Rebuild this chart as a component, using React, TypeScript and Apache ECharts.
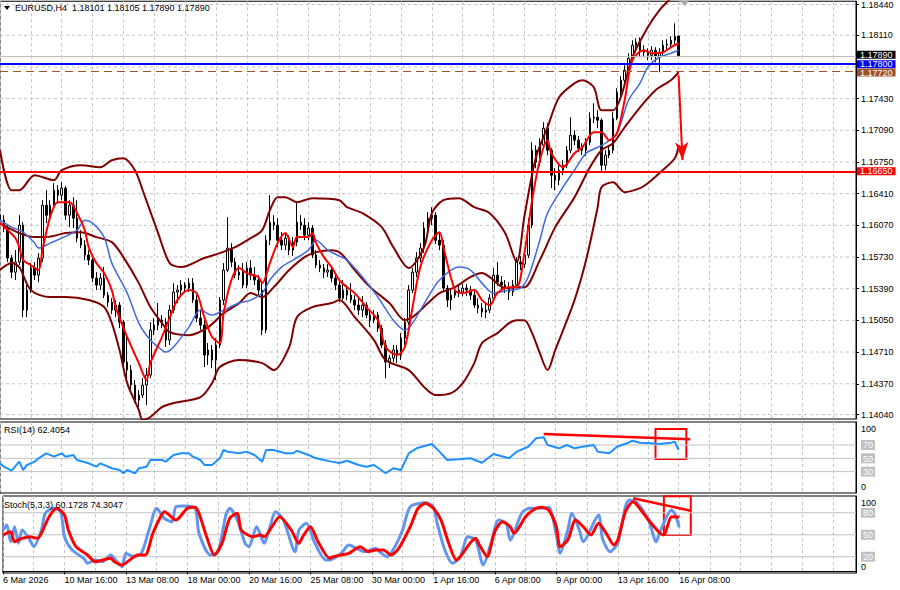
import React, { useEffect, useRef } from 'react';
import * as echarts from 'echarts';

// ---------- data ----------
const symbolName = 'EURUSD,H4';
const headerOHLC = [1.18101, 1.18105, 1.1789, 1.1789];
const rsiCaption = 'RSI(14) 62.4054';
const stochCaption = 'Stoch(5,3,3) 60.1728 74.3047';

const timeLabels = ['6 Mar 2026', '10 Mar 16:00', '13 Mar 08:00', '18 Mar 00:00', '20 Mar 16:00', '25 Mar 08:00',
  '30 Mar 00:00', '1 Apr 16:00', '6 Apr 08:00', '9 Apr 00:00', '13 Apr 16:00', '16 Apr 08:00'];
const barsPerLabel = 16;
const barsPerGrid = 8;
const totalSlots = 223;

const opens = [
  1.16179, 1.16126, 1.16040, 1.15719, 1.15568, 1.15676, 1.16072, 1.15161, 1.15375, 1.15612,
  1.15536, 1.15719, 1.16286, 1.16179, 1.16286, 1.16447, 1.16394, 1.16469, 1.16179, 1.16286,
  1.16147, 1.15933, 1.15858, 1.15751, 1.15697, 1.15504, 1.15429, 1.15504, 1.15321, 1.15246,
  1.15161, 1.15214, 1.15032, 1.14603, 1.14517, 1.14356, 1.14195, 1.14249, 1.14356, 1.14463,
  1.14946, 1.15000, 1.15053, 1.15032, 1.14839, 1.15161, 1.15354, 1.15375, 1.15429, 1.15397,
  1.15450, 1.15268, 1.15075, 1.15000, 1.14678, 1.14732, 1.14624, 1.14785, 1.15268, 1.15590,
  1.15826, 1.15676, 1.15536, 1.15568, 1.15429, 1.15612, 1.15536, 1.15483, 1.15375, 1.14946,
  1.15911, 1.16104, 1.16072, 1.15911, 1.15858, 1.15933, 1.15804, 1.15890, 1.16104, 1.16072,
  1.15965, 1.16040, 1.15751, 1.15644, 1.15612, 1.15568, 1.15590, 1.15504, 1.15429, 1.15289,
  1.15375, 1.15321, 1.15268, 1.15214, 1.15161, 1.15214, 1.15107, 1.15053, 1.15107, 1.14967,
  1.14785, 1.14603, 1.14646, 1.14732, 1.14678, 1.14860, 1.15032, 1.15375, 1.15568, 1.15719,
  1.15826, 1.16040, 1.16147, 1.16179, 1.15911, 1.15858, 1.15397, 1.15268, 1.15321, 1.15375,
  1.15354, 1.15397, 1.15375, 1.15321, 1.15214, 1.15182, 1.15139, 1.15161, 1.15289, 1.15536,
  1.15461, 1.15429, 1.15397, 1.15354, 1.15429, 1.15676, 1.15654, 1.15751, 1.16072, 1.16876,
  1.16748, 1.16930, 1.17112, 1.16876, 1.16608, 1.16555, 1.16662, 1.16715, 1.16876, 1.17037,
  1.16984, 1.16898, 1.16876, 1.16962, 1.17219, 1.17230, 1.17198, 1.16715, 1.16823, 1.16876,
  1.17219, 1.17498, 1.17627, 1.17734, 1.17863, 1.18003, 1.18035, 1.17949, 1.17927, 1.17895,
  1.17949, 1.17884, 1.17927, 1.18003, 1.18013, 1.18056, 1.18101,
];
const closes = [
  1.16126, 1.16040, 1.15719, 1.15568, 1.15676, 1.16072, 1.15161, 1.15375, 1.15612, 1.15536,
  1.15719, 1.16286, 1.16179, 1.16286, 1.16447, 1.16394, 1.16469, 1.16179, 1.16286, 1.16147,
  1.15933, 1.15858, 1.15751, 1.15697, 1.15504, 1.15429, 1.15504, 1.15321, 1.15246, 1.15161,
  1.15214, 1.15032, 1.14603, 1.14517, 1.14356, 1.14195, 1.14249, 1.14356, 1.14463, 1.14946,
  1.15000, 1.15053, 1.15032, 1.14839, 1.15161, 1.15354, 1.15375, 1.15429, 1.15397, 1.15450,
  1.15268, 1.15075, 1.15000, 1.14678, 1.14732, 1.14624, 1.14785, 1.15268, 1.15590, 1.15826,
  1.15676, 1.15536, 1.15568, 1.15429, 1.15612, 1.15536, 1.15483, 1.15375, 1.14946, 1.15911,
  1.16104, 1.16072, 1.15911, 1.15858, 1.15933, 1.15804, 1.15890, 1.16104, 1.16072, 1.15965,
  1.16040, 1.15751, 1.15644, 1.15612, 1.15568, 1.15590, 1.15504, 1.15429, 1.15289, 1.15375,
  1.15321, 1.15268, 1.15214, 1.15161, 1.15214, 1.15107, 1.15053, 1.15107, 1.14967, 1.14785,
  1.14603, 1.14646, 1.14732, 1.14678, 1.14860, 1.15032, 1.15375, 1.15568, 1.15719, 1.15826,
  1.16040, 1.16147, 1.16179, 1.15911, 1.15858, 1.15397, 1.15268, 1.15321, 1.15375, 1.15354,
  1.15397, 1.15375, 1.15321, 1.15214, 1.15182, 1.15139, 1.15161, 1.15289, 1.15536, 1.15461,
  1.15429, 1.15397, 1.15354, 1.15429, 1.15676, 1.15654, 1.15751, 1.16072, 1.16876, 1.16748,
  1.16930, 1.17112, 1.16876, 1.16608, 1.16555, 1.16662, 1.16715, 1.16876, 1.17037, 1.16984,
  1.16898, 1.16876, 1.16962, 1.17219, 1.17230, 1.17198, 1.16715, 1.16823, 1.16876, 1.17219,
  1.17498, 1.17627, 1.17734, 1.17863, 1.18003, 1.18035, 1.17949, 1.17927, 1.17895, 1.17949,
  1.17884, 1.17927, 1.18003, 1.18013, 1.18056, 1.18099, 1.17890,
];
const lows = [
  1.16040, 1.15997, 1.15676, 1.15504, 1.15483, 1.15644, 1.15085, 1.15085, 1.15343, 1.15483,
  1.15461, 1.15676, 1.16094, 1.16126, 1.16255, 1.16308, 1.16340, 1.16126, 1.16051, 1.16040,
  1.15890, 1.15826, 1.15697, 1.15644, 1.15461, 1.15375, 1.15375, 1.15289, 1.15193, 1.15118,
  1.15085, 1.14967, 1.14549, 1.14431, 1.14302, 1.14163, 1.14120, 1.14217, 1.14141, 1.14431,
  1.14892, 1.14946, 1.14967, 1.14764, 1.14785, 1.15128, 1.15236, 1.15321, 1.15343, 1.15354,
  1.15236, 1.15032, 1.14946, 1.14549, 1.14571, 1.14539, 1.14410, 1.14753, 1.15214, 1.15568,
  1.15622, 1.15504, 1.15483, 1.15397, 1.15397, 1.15483, 1.15429, 1.15321, 1.14892, 1.14914,
  1.15858, 1.16019, 1.15836, 1.15804, 1.15804, 1.15751, 1.15740, 1.15847, 1.16019, 1.15911,
  1.15911, 1.15719, 1.15612, 1.15568, 1.15504, 1.15515, 1.15461, 1.15375, 1.15246, 1.15268,
  1.15268, 1.15236, 1.15161, 1.15107, 1.15085, 1.15075, 1.14978, 1.15021, 1.14925, 1.14753,
  1.14431, 1.14539, 1.14603, 1.14592, 1.14624, 1.14785, 1.15000, 1.15343, 1.15515, 1.15676,
  1.15772, 1.15965, 1.16072, 1.15869, 1.15804, 1.15354, 1.15193, 1.15161, 1.15289, 1.15300,
  1.15311, 1.15311, 1.15268, 1.15182, 1.15128, 1.15085, 1.15075, 1.15128, 1.15268, 1.15418,
  1.15375, 1.15343, 1.15268, 1.15311, 1.15397, 1.15590, 1.15612, 1.15719, 1.16040, 1.16684,
  1.16705, 1.16898, 1.16823, 1.16469, 1.16447, 1.16501, 1.16608, 1.16684, 1.16844, 1.16930,
  1.16855, 1.16823, 1.16812, 1.16930, 1.17166, 1.17112, 1.16641, 1.16662, 1.16791, 1.16844,
  1.17198, 1.17445, 1.17573, 1.17681, 1.17820, 1.17927, 1.17874, 1.17874, 1.17842, 1.17842,
  1.17820, 1.17713, 1.17895, 1.17960, 1.17981, 1.18013, 1.17890,
];
const highs = [
  1.16255, 1.16179, 1.16072, 1.15751, 1.15804, 1.16179, 1.16104, 1.15429, 1.15665, 1.15676,
  1.15772, 1.16340, 1.16447, 1.16340, 1.16522, 1.16501, 1.16533, 1.16491, 1.16340, 1.16372,
  1.16340, 1.16019, 1.15911, 1.15804, 1.15719, 1.15568, 1.15558, 1.15622, 1.15354, 1.15289,
  1.15268, 1.15246, 1.15053, 1.14892, 1.14571, 1.14410, 1.14302, 1.14431, 1.14539, 1.15032,
  1.15075, 1.15236, 1.15107, 1.15075, 1.15214, 1.15450, 1.15429, 1.15483, 1.15461, 1.15504,
  1.15504, 1.15321, 1.15161, 1.15053, 1.14807, 1.14785, 1.14860, 1.15300, 1.15665, 1.16158,
  1.15879, 1.15719, 1.15644, 1.15665, 1.15676, 1.15697, 1.15622, 1.15536, 1.15450, 1.15965,
  1.16394, 1.16179, 1.16147, 1.15997, 1.15987, 1.15965, 1.15944, 1.16308, 1.16179, 1.16147,
  1.16104, 1.16072, 1.15804, 1.15697, 1.15654, 1.15654, 1.15633, 1.15547, 1.15461, 1.15483,
  1.15429, 1.15450, 1.15321, 1.15300, 1.15311, 1.15246, 1.15161, 1.15161, 1.15139, 1.15000,
  1.14839, 1.14678, 1.14785, 1.14785, 1.14914, 1.15075, 1.15429, 1.15612, 1.15783, 1.15879,
  1.16104, 1.16212, 1.16265, 1.16212, 1.15987, 1.15911, 1.15429, 1.15397, 1.15418, 1.15418,
  1.15440, 1.15440, 1.15418, 1.15375, 1.15289, 1.15236, 1.15236, 1.15332, 1.15612, 1.15676,
  1.15525, 1.15483, 1.15461, 1.15483, 1.15729, 1.15740, 1.15804, 1.16147, 1.16962, 1.16930,
  1.17005, 1.17177, 1.17166, 1.16898, 1.16684, 1.16715, 1.16769, 1.16920, 1.17230, 1.17091,
  1.17027, 1.16951, 1.17005, 1.17284, 1.17380, 1.17305, 1.17219, 1.16876, 1.16930, 1.17284,
  1.17542, 1.17670, 1.17788, 1.17917, 1.18056, 1.18077, 1.18088, 1.18003, 1.17970, 1.17992,
  1.17981, 1.17970, 1.18056, 1.18067, 1.18099, 1.18238, 1.18105,
];

// indicator readings: [bar index, value]
const bbUpper = [[0,1.16876],[3,1.16447],[5,1.16447],[9,1.16608],[14,1.16555],[16,1.16662],[21,1.16716],[26,1.16694],[29,1.16769],[32,1.1679],[35,1.16662],[37,1.16447],[41,1.15987],[44,1.15665],[47,1.15622],[53,1.15719],[57,1.15772],[61,1.15836],[65,1.15933],[68,1.16019],[70,1.16233],[72,1.16372],[74,1.16372],[77,1.16319],[81,1.16361],[88,1.1634],[90,1.16265],[94,1.16201],[99,1.16051],[102,1.15836],[106,1.15612],[110,1.15836],[112,1.16201],[115,1.1634],[119,1.16361],[123,1.16265],[127,1.16201],[131,1.15987],[134,1.15676],[136,1.16168],[139,1.16801],[142,1.17123],[145,1.17445],[149,1.17595],[151,1.17627],[154,1.17552],[156,1.17305],[159,1.17305],[161,1.17445],[164,1.17874],[168,1.18196],[171,1.18378],[174,1.18507],[176,1.1859]];
const bbMiddle = [[0,1.16094],[5,1.15987],[9,1.15944],[12,1.15944],[17,1.15987],[21,1.15997],[25,1.15944],[29,1.1589],[32,1.15729],[36,1.1545],[39,1.15193],[42,1.15021],[44,1.14925],[49,1.14892],[54,1.14978],[58,1.15128],[62,1.15236],[65,1.15343],[68,1.153],[71,1.15407],[75,1.1559],[79,1.15729],[82,1.15783],[86,1.15804],[88,1.15783],[90,1.15697],[92,1.1559],[96,1.15407],[101,1.15236],[105,1.15053],[107,1.15085],[111,1.15236],[114,1.15343],[118,1.15407],[122,1.15515],[125,1.15558],[127,1.15515],[131,1.15397],[134,1.15407],[136,1.15407],[140,1.15697],[144,1.16051],[149,1.16372],[153,1.16694],[156,1.16876],[159,1.16951],[162,1.17123],[166,1.17337],[170,1.1752],[174,1.17627],[176,1.17713]];
const bbLower = [[0,1.1559],[3,1.15665],[5,1.15622],[8,1.15375],[13,1.153],[17,1.153],[23,1.15268],[27,1.15193],[29,1.15021],[31,1.14732],[33,1.14377],[36,1.14088],[37,1.13981],[39,1.14013],[42,1.1412],[45,1.14163],[52,1.14227],[55,1.14377],[57,1.14549],[62,1.14624],[68,1.14592],[71,1.14517],[75,1.14764],[77,1.15085],[81,1.15193],[86,1.15236],[88,1.15268],[92,1.15085],[97,1.14839],[100,1.14624],[106,1.14517],[110,1.14334],[113,1.14249],[117,1.1427],[120,1.14377],[123,1.14592],[125,1.14807],[129,1.14914],[132,1.15021],[134,1.15053],[136,1.15053],[138,1.14914],[140,1.14699],[142,1.14517],[144,1.14732],[149,1.15268],[152,1.15697],[155,1.16265],[156,1.16479],[159,1.16533],[162,1.16426],[166,1.16469],[168,1.16522],[171,1.16629],[175,1.1679],[176,1.1693]];
const maFast = [[0,1.16094],[2,1.16019],[4,1.15933],[5,1.15836],[6,1.15697],[8,1.15644],[10,1.1559],[11,1.15804],[13,1.16158],[15,1.16319],[18,1.16319],[20,1.16201],[22,1.16019],[23,1.15836],[25,1.15665],[27,1.15558],[29,1.15375],[30,1.15193],[33,1.14871],[36,1.14592],[38,1.1441],[39,1.14592],[42,1.14871],[44,1.15075],[46,1.15268],[49,1.15375],[51,1.15343],[53,1.15085],[55,1.14871],[57,1.14807],[58,1.15128],[60,1.15483],[62,1.15612],[64,1.15558],[67,1.15515],[68,1.1545],[70,1.15665],[72,1.15879],[74,1.15987],[76,1.15836],[77,1.15944],[80,1.15944],[81,1.15987],[82,1.15879],[84,1.15729],[86,1.15622],[88,1.15483],[90,1.15407],[92,1.15343],[95,1.15193],[98,1.15053],[100,1.14764],[103,1.14678],[105,1.14764],[107,1.15193],[109,1.15622],[112,1.15911],[114,1.15997],[115,1.15836],[118,1.15375],[120,1.15343],[123,1.15375],[125,1.15268],[127,1.15214],[129,1.15343],[132,1.15407],[134,1.15407],[136,1.15772],[138,1.1634],[140,1.16769],[142,1.16984],[143,1.16844],[146,1.16694],[149,1.16844],[151,1.16908],[154,1.1707],[156,1.1707],[158,1.16984],[160,1.17059],[162,1.17413],[164,1.17842],[167,1.17949],[169,1.17917],[172,1.17927],[174,1.17981],[176,1.18024]];
const maSlow = [[0,1.16126],[3,1.16051],[6,1.15997],[9,1.15879],[10,1.15826],[13,1.15879],[16,1.15933],[20,1.16019],[22,1.16126],[24,1.16094],[27,1.15944],[29,1.15665],[33,1.15343],[36,1.15021],[39,1.14839],[42,1.14732],[43,1.1471],[45,1.14764],[49,1.14978],[52,1.15161],[55,1.15107],[58,1.15161],[62,1.15236],[65,1.15268],[68,1.15343],[70,1.15483],[73,1.15622],[76,1.15697],[80,1.15804],[82,1.15911],[85,1.15804],[88,1.1574],[90,1.15697],[94,1.15515],[98,1.153],[102,1.15053],[105,1.14946],[107,1.15021],[111,1.153],[114,1.15483],[119,1.15622],[122,1.1559],[125,1.1545],[128,1.15343],[132,1.15375],[135,1.15397],[137,1.15515],[140,1.15911],[142,1.16201],[146,1.16479],[149,1.16662],[152,1.16844],[155,1.16908],[157,1.16951],[160,1.17059],[163,1.17413],[166,1.17595],[168,1.17767],[171,1.17874],[174,1.17917],[176,1.17949]];

const rsi = [[0,42.5],[1,37.4],[3,31.4],[5,44.9],[6,32.4],[7,40],[9,45],[10,50],[12,57.5],[14,52.4],[16,57.5],[17,52.4],[19,55],[20,47.4],[23,42.5],[25,37.4],[26,42.5],[29,35],[31,32.4],[32,27.5],[33,32.4],[35,27.5],[36,35],[38,37.4],[39,47.4],[42,47.4],[43,45],[45,55],[47,57.5],[49,57.5],[50,52.4],[52,47.4],[53,40],[55,40],[57,50],[58,62.5],[59,60],[62,57.5],[64,60],[66,55],[68,45],[69,62.5],[71,62.5],[74,57.5],[76,57.5],[77,61.4],[80,55],[82,50],[84,47.4],[86,45],[88,43],[90,46.4],[93,40],[95,37.4],[97,40],[100,27.5],[102,35],[104,32.4],[106,57.5],[108,65],[112,71.5],[114,60],[116,47.4],[119,48.5],[122,50],[125,43.4],[128,56.5],[132,50],[134,60],[137,67.4],[139,80],[141,81.5],[142,70],[145,65],[147,70],[149,65],[151,67.4],[154,70],[155,60],[158,57.5],[160,67.4],[163,73.4],[164,76.4],[166,73.4],[169,72.5],[171,71.5],[174,73.4],[175,75],[176,62.4]];
const stochSignal = [[0,49.7],[2,54.2],[3,40.5],[5,45.1],[7,47.3],[9,45.1],[10,52],[12,74.6],[14,86.1],[16,76.9],[17,56.5],[19,33.7],[22,22.4],[24,13.2],[28,17.9],[29,13.2],[31,8.7],[33,15.6],[35,22.4],[37,22.4],[39,52],[41,74.6],[42,81.4],[45,70.1],[48,86.1],[50,87.4],[51,79.3],[53,47.3],[55,22.4],[57,38.3],[59,72.4],[61,79.3],[62,56.5],[65,47.3],[67,49.7],[68,47.3],[70,61],[72,74.6],[75,56.5],[77,38.3],[78,47.3],[80,61],[82,40.5],[85,17.9],[86,20.1],[88,22.4],[90,24.7],[93,33.7],[95,26.9],[97,29.2],[99,29.2],[101,22.4],[103,31.5],[106,61],[108,86.1],[110,92.9],[112,86.1],[114,70.1],[116,38.3],[118,15.6],[119,20.1],[123,45.1],[124,36],[126,20.1],[128,54.2],[130,67.8],[132,61],[133,52],[136,74.6],[138,83.8],[140,87.4],[142,83.8],[144,61],[145,33.7],[147,42.8],[149,70.1],[151,61],[153,49.7],[155,65.6],[157,52],[159,36],[160,42.8],[162,81.4],[164,95.1],[165,90.6],[168,70.1],[171,52],[172,49.7],[174,74.6],[176,74.3]];
const stochMain = [[0,56.5],[1,63.3],[2,40.5],[3,61],[4,38.3],[5,56.5],[7,42.8],[8,33.7],[10,56.5],[11,79.3],[13,86.1],[15,81.4],[16,47.3],[18,29.2],[21,17.9],[22,11.1],[24,15.6],[26,13.2],[28,22.4],[30,11.1],[31,6.4],[32,24.7],[34,20.1],[36,24.7],[38,56.5],[40,86.1],[42,72.4],[44,67.8],[45,88.3],[47,89.2],[50,86.1],[51,52],[54,22.4],[56,26.9],[58,76.9],[59,86.1],[61,70.1],[63,38.3],[64,33.7],[66,61],[68,38.3],[69,52],[71,81.4],[73,70.1],[76,26.9],[77,56.5],[79,65.6],[81,40.5],[84,15.6],[85,15.6],[88,24.7],[90,36],[92,31.5],[94,26.9],[97,31.5],[98,26.9],[100,20.1],[102,33.7],[104,56.5],[106,88.3],[110,93.7],[112,88.3],[113,65.6],[115,29.2],[117,11.1],[119,20.1],[121,47.3],[123,42.8],[125,8.7],[127,38.3],[129,70.1],[131,65.6],[132,42.8],[135,79.3],[137,86.1],[139,86.1],[142,87.4],[144,49.7],[145,24.7],[147,56.5],[148,79.3],[150,56.5],[151,40.5],[155,76.9],[156,45.1],[158,26.9],[160,38.3],[162,88.3],[163,97.4],[165,93.7],[168,70.1],[170,40.5],[171,54.2],[174,83.8],[175,76.9],[176,60.2]];

const priceTicks = [1.1844, 1.1811, 1.1777, 1.1743, 1.1709, 1.1675, 1.1641, 1.1607, 1.1573, 1.1539, 1.1505, 1.1471, 1.1437, 1.1404];
const priceTickLabels = [1.1844, 1.1811, 1.1743, 1.1709, 1.1675, 1.1641, 1.1607, 1.1573, 1.1539, 1.1505, 1.1471, 1.1437, 1.1404];
const rsiLevels = [70, 50, 30];
const rsiTickLabels = [0, 30, 50, 70, 100];
const stochLevels = [80, 50, 20];
const stochTickLabels = [0, 20, 50, 80, 100];

const bidPrice = 1.1789;
const blueLevel = 1.178;
const brownLevel = 1.1772;
const redLevel = 1.1665;
const arrowFrom = [176, 1.17681];
const arrowTo = [177, 1.1677];
const rsiTrend = [[141, 86.5], [179, 78.5]];
const rsiBox = [[170, 94], [178, 49]];
const stochTrend = [[164, 99.7], [179, 82.8]];
const stochBox = [[172, 102.5], [179, 49.7]];

// ---------- chart ----------
const FONT = "'Liberation Sans', Arial, sans-serif";

function buildOption() {
  const categories = Array.from({ length: totalSlots }, (_, i) => String(i));
  const candles = opens.map((o, i) => [o, closes[i], lows[i], highs[i]]);
  const labelInterval = (i: number) => i % barsPerLabel === 0 && i / barsPerLabel < timeLabels.length;
  const gridInterval = (i: number) => i % barsPerGrid === 0;

  const xAxes = [0, 1, 2].map((g) => ({
    type: 'category',
    gridIndex: g,
    data: categories,
    boundaryGap: false,
    axisLine: { show: g === 2, lineStyle: { color: '#000' } },
    axisTick: { show: g === 2, interval: labelInterval, length: 3, lineStyle: { color: '#000' } },
    axisLabel: {
      show: g === 2,
      interval: labelInterval,
      formatter: (_v: string, i: number) => (i % barsPerLabel === 0 ? timeLabels[i / barsPerLabel] || '' : ''),
      align: 'left',
      fontSize: 9,
      fontFamily: FONT,
      color: '#000',
      margin: 2,
    },
    splitLine: { show: true, interval: gridInterval, lineStyle: { color: '#c4c4c4', type: [3, 3], width: 1 } },
  }));

  const levelRich = (shift: number) => ({
    t: { lineHeight: 10 + 2 * shift, verticalAlign: 'bottom', fontSize: 9, fontFamily: FONT, color: '#000' },
    b: { lineHeight: 10 + 2 * shift, verticalAlign: 'top', fontSize: 9, fontFamily: FONT, color: '#000' },
    l: { backgroundColor: '#c0c0c0', color: '#ffffff', padding: [1, 2, 0, 2], fontSize: 9, fontFamily: FONT },
  });

  const yAxes = [
    {
      type: 'value', gridIndex: 0, position: 'right', min: 1.13992, max: 1.18475,
      axisLine: { show: true, lineStyle: { color: '#000' } },
      axisTick: { show: true, length: 3, customValues: priceTickLabels, lineStyle: { color: '#000' } },
      axisLabel: { show: true, customValues: priceTickLabels, formatter: (v: number) => v.toFixed(5), color: '#000', fontSize: 9, fontFamily: FONT, margin: 5 },
      splitLine: { show: false },
    },
    {
      type: 'value', gridIndex: 1, position: 'right', min: -2.1, max: 104.5,
      axisLine: { show: true, lineStyle: { color: '#000' } },
      axisTick: { show: false },
      axisLabel: {
        show: true, customValues: rsiTickLabels, margin: 5, showMinLabel: true, showMaxLabel: true,
        formatter: (v: number) => (v === 100 ? '{t|100}' : v === 0 ? '{b|0}' : '{l|' + v + '}'),
        rich: levelRich(4),
      },
      splitLine: { show: false },
    },
    {
      type: 'value', gridIndex: 2, position: 'right', min: -2.2, max: 102.9,
      axisLine: { show: true, lineStyle: { color: '#000' } },
      axisTick: { show: false },
      axisLabel: {
        show: true, customValues: stochTickLabels, margin: 5, showMinLabel: true, showMaxLabel: true,
        formatter: (v: number) => (v === 100 ? '{t|100}' : v === 0 ? '{b|0}' : '{l|' + v + '}'),
        rich: levelRich(4),
      },
      splitLine: { show: false },
    },
  ];

  const hLine = (g: number, v: number, color: string, dashed: boolean) => ({
    type: 'line', xAxisIndex: g, yAxisIndex: g, silent: true, z: 1,
    data: [[0, v], [totalSlots - 1, v]], symbol: 'none',
    lineStyle: { color, width: 1, type: dashed ? [3, 3] : 'solid' },
  });

  const curve = (data: number[][], color: string, width: number, g = 0, smooth: number | boolean = 0.3, z = 3) => ({
    type: 'line', xAxisIndex: g, yAxisIndex: g, data, symbol: 'none', smooth, silent: true, z,
    lineStyle: { color, width }, itemStyle: { color },
  });

  const boxLabel = (bg: string, dy: number) => ({
    show: true, position: 'end', distance: 1, backgroundColor: bg, color: '#fff',
    padding: [0, 3, 0, 3], lineHeight: 8, fontSize: 9, fontFamily: FONT, offset: [0, dy],
    formatter: (p: any) => Number(p.value).toFixed(5),
  });

  const series: any[] = [
    ...priceTicks.map((v) => hLine(0, v, '#c4c4c4', true)),
    ...rsiLevels.map((v) => hLine(1, v, '#c0c0c0', false)),
    ...stochLevels.map((v) => hLine(2, v, '#c0c0c0', false)),
    {
      type: 'candlestick', xAxisIndex: 0, yAxisIndex: 0, data: candles, barWidth: 2, silent: true, z: 2,
      itemStyle: { color: '#ffffff', color0: '#000000', borderColor: '#000000', borderColor0: '#000000', borderWidth: 1 },
      markLine: {
        silent: true, symbol: ['none', 'none'], animation: false, precision: 5,
        data: [
          { yAxis: bidPrice, lineStyle: { color: '#c0c0c0', width: 1, type: 'solid' }, label: boxLabel('#000000', -1) },
          { yAxis: blueLevel, lineStyle: { color: '#0000ff', width: 2, type: 'solid' }, label: boxLabel('#0000ff', 0) },
          { yAxis: brownLevel, lineStyle: { color: '#a0522d', width: 1, type: [8, 5] }, label: boxLabel('#a0522d', 1) },
          { yAxis: redLevel, lineStyle: { color: '#ff0000', width: 2, type: 'solid' }, label: boxLabel('#ff0000', 0) },
          [
            { coord: arrowFrom, symbol: 'none', lineStyle: { color: '#ff0000', width: 2, type: 'solid' }, label: { show: false } },
            { coord: arrowTo, symbol: 'arrow', symbolSize: [10, 18] },
          ],
        ],
      },
    },
    curve(bbUpper, '#800000', 2),
    curve(bbMiddle, '#800000', 2),
    curve(bbLower, '#800000', 2),
    curve(maSlow, '#4169e1', 1.5),
    curve(maFast, '#ff0000', 2),
    {
      ...curve(rsi, '#1e90ff', 2, 1, false),
      markLine: {
        silent: true, symbol: ['none', 'none'], animation: false, precision: 3,
        lineStyle: { color: '#ff0000', width: 2.5, type: 'solid' }, label: { show: false },
        data: [[{ coord: rsiTrend[0] }, { coord: rsiTrend[1] }]],
      },
      markArea: {
        silent: true,
        itemStyle: { color: 'rgba(0,0,0,0)', borderColor: '#ff0000', borderWidth: 2 },
        data: [[{ coord: rsiBox[0] }, { coord: rsiBox[1] }]],
      },
    },
    curve(stochMain, '#6495ed', 3, 2, 0.25),
    {
      ...curve(stochSignal, '#ff0000', 3, 2, 0.25, 4),
      markLine: {
        silent: true, symbol: ['none', 'none'], animation: false, precision: 3,
        lineStyle: { color: '#ff0000', width: 2.5, type: 'solid' }, label: { show: false },
        data: [[{ coord: stochTrend[0] }, { coord: stochTrend[1] }]],
      },
      markArea: {
        silent: true,
        itemStyle: { color: 'rgba(0,0,0,0)', borderColor: '#ff0000', borderWidth: 2 },
        data: [[{ coord: stochBox[0] }, { coord: stochBox[1] }]],
      },
    },
  ];

  const headerText = symbolName + '  ' + headerOHLC.map((v) => v.toFixed(5)).join(' ');

  return {
    animation: false,
    backgroundColor: '#ffffff',
    textStyle: { fontFamily: FONT },
    grid: [
      { left: -2, right: 44, top: 1, height: 418, show: true, borderColor: '#000', borderWidth: 1, backgroundColor: '#fff' },
      { left: -2, right: 44, top: 422, height: 71, show: true, borderColor: '#000', borderWidth: 1, backgroundColor: '#fff' },
      { left: -2, right: 44, top: 496, height: 77, show: true, borderColor: '#000', borderWidth: 1, backgroundColor: '#fff' },
    ],
    xAxis: xAxes,
    yAxis: yAxes,
    series,
    graphic: [
      { type: 'polygon', shape: { points: [[4, 6], [10, 6], [7, 10]] }, style: { fill: '#000' }, z: 100 },
      { type: 'text', x: 15, y: 8, z: 100, style: { text: headerText, fill: '#000', fontSize: 9, fontFamily: FONT, verticalAlign: 'middle' } },
      { type: 'text', x: 4, y: 430, z: 100, style: { text: rsiCaption, fill: '#000', fontSize: 9, fontFamily: FONT, verticalAlign: 'middle' } },
      { type: 'text', x: 4, y: 505, z: 100, style: { text: stochCaption, fill: '#000', fontSize: 9, fontFamily: FONT, verticalAlign: 'middle' } },
      { type: 'polygon', shape: { points: [[680, 1], [689, 1], [684.5, 6]] }, style: { fill: '#a8a8a8' }, z: 100 },
    ],
  };
}

export default function App() {
  const ref = useRef<HTMLDivElement>(null);
  useEffect(() => {
    if (!ref.current) return;
    const chart = echarts.init(ref.current, null, { renderer: 'svg' });
    chart.setOption(buildOption() as any);
    return () => chart.dispose();
  }, []);
  return <div ref={ref} style={{ position: 'absolute', left: 0, top: 0, width: 900, height: 590 }} />;
}
